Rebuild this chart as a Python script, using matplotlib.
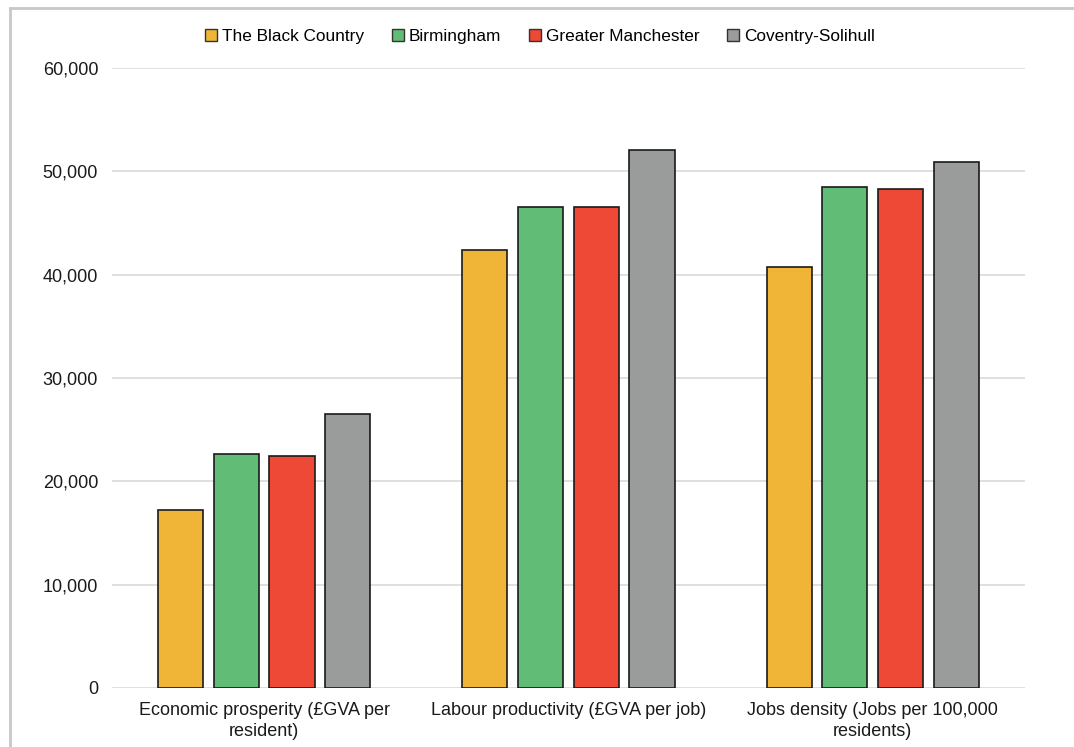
import numpy as np
import matplotlib.pyplot as plt
from matplotlib.lines import Line2D

plt.rcParams['font.family'] = ['Liberation Sans', 'DejaVu Sans']

categories = ["Economic prosperity (£GVA per\nresident)",
              "Labour productivity (£GVA per job)",
              "Jobs density (Jobs per 100,000\nresidents)"]
series_names = ["The Black Country", "Birmingham", "Greater Manchester", "Coventry-Solihull"]
black_country = [17200, 42350, 40750]
birmingham = [22650, 46550, 48500]
greater_manchester = [22450, 46550, 48300]
coventry_solihull = [26550, 52100, 50900]
colors = ["#F0B537", "#61BD76", "#EE4836", "#9A9C9C"]

values = [black_country, birmingham, greater_manchester, coventry_solihull]

fig = plt.figure(figsize=(10.74, 7.47), dpi=100)
ax = fig.add_axes([0.1043, 0.079, 0.850, 0.830])

x = np.arange(len(categories))
step = 0.183
width = 0.148
for i, (name, vals, c) in enumerate(zip(series_names, values, colors)):
    ax.bar(x + (i - 1.5) * step, vals, width=width, color=c,
           edgecolor="#1a1a1a", linewidth=1.2, label=name, zorder=3)

ax.set_xlim(-0.5, 2.5)
ax.set_ylim(0, 60000)
ax.set_yticks(np.arange(0, 60001, 10000))
ax.yaxis.set_major_formatter(plt.FuncFormatter(lambda v, p: f"{int(v):,}"))
ax.set_xticks(x)
ax.set_xticklabels(categories, fontsize=13, color="#1a1a1a", linespacing=1.3)
ax.tick_params(axis="y", labelsize=13, length=0, pad=10, labelcolor="#1a1a1a")
ax.tick_params(axis="x", length=0, pad=10)
ax.grid(axis="y", color="#d9d9d9", linewidth=1.2, zorder=0)
for s in ax.spines.values():
    s.set_visible(False)

handles = [plt.Rectangle((0, 0), 1, 1, facecolor=c, edgecolor="#333333", linewidth=1)
           for c in colors]
fig.legend(handles, series_names, loc="center", bbox_to_anchor=(0.503, 0.951),
           ncol=4, frameon=False, fontsize=12.4, handlelength=0.7, handleheight=0.7,
           handletextpad=0.3, columnspacing=1.6)

# outer frame (top and left edges)
fig.add_artist(Line2D([0.0095, 1.0], [0.989, 0.989], color="#c8c8c8", linewidth=2,
                      transform=fig.transFigure))
fig.add_artist(Line2D([0.0095, 0.0095], [0.0, 0.989], color="#c8c8c8", linewidth=2,
                      transform=fig.transFigure))

fig.savefig("out.png", dpi=100)
